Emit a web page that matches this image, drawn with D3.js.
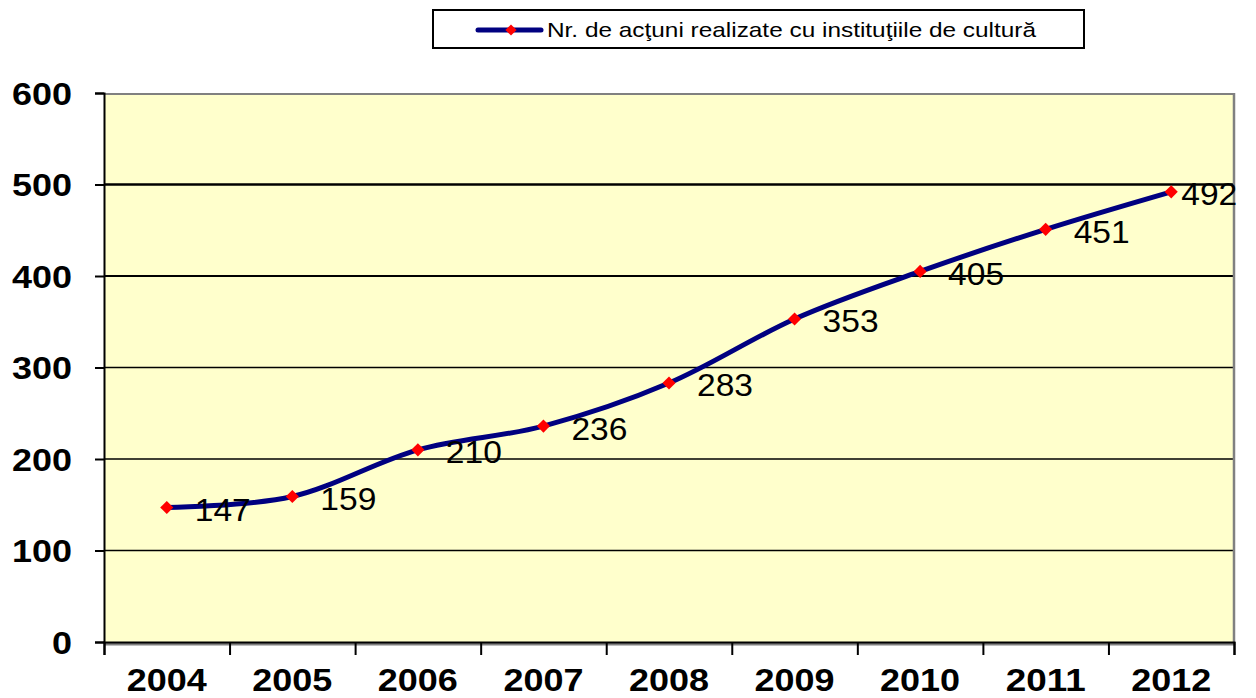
<!DOCTYPE html>
<html>
<head>
<meta charset="utf-8">
<script src="https://cdn.jsdelivr.net/npm/d3@7"></script>
<style>
  body { margin: 0; background: #fff; }
  svg { display: block; font-family: "Liberation Sans", Arial, sans-serif; }
</style>
</head>
<body>
<div id="chart"></div>
<script>
// data
const years = ["2004", "2005", "2006", "2007", "2008", "2009", "2010", "2011", "2012"];
const actions = [147, 159, 210, 236, 283, 353, 405, 451, 492];
const yTicks = [0, 100, 200, 300, 400, 500, 600];
const seriesName = "Nr. de acţuni realizate cu instituţiile de cultură";

const width = 1256, height = 698;
const plot = {left: 104, right: 1234, top: 93, bottom: 642};

let svg = d3.select("#chart")
    .append("svg")
    .attr("width", width)
    .attr("height", height);

let x = d3.scaleBand()
    .domain(years)
    .range([plot.left, plot.right])
    .padding(0);

// boundaries between categories, for tick marks
let xEdge = d3.scaleLinear()
    .domain([0, years.length])
    .range([plot.left, plot.right]);

let y = d3.scaleLinear()
    .domain([0, 600])
    .range([plot.bottom, plot.top]);

// plot area
svg.append("rect")
    .attr("x", plot.left)
    .attr("y", plot.top)
    .attr("width", plot.right - plot.left)
    .attr("height", plot.bottom - plot.top)
    .attr("fill", "#FFFFCC");

// grid lines
svg.append("g")
    .selectAll("line")
    .data(yTicks.filter(d => d > 0 && d < 600))
    .enter()
    .append("line")
    .attr("x1", plot.left)
    .attr("x2", plot.right)
    .attr("y1", d => y(d))
    .attr("y2", d => y(d))
    .attr("stroke", "#000")
    .attr("stroke-width", d => d === 500 ? 2.5 : (d === 400 ? 2 : 1.3));

// grey frame top / right, shadow under x axis
svg.append("line")
    .attr("x1", plot.left).attr("x2", plot.right)
    .attr("y1", plot.top + 1).attr("y2", plot.top + 1)
    .attr("stroke", "#808080").attr("stroke-width", 2);
svg.append("line")
    .attr("x1", plot.right).attr("x2", plot.right)
    .attr("y1", plot.top).attr("y2", plot.bottom + 3)
    .attr("stroke", "#808080").attr("stroke-width", 2.5);
svg.append("line")
    .attr("x1", plot.left).attr("x2", plot.right)
    .attr("y1", plot.bottom + 2).attr("y2", plot.bottom + 2)
    .attr("stroke", "#808080").attr("stroke-width", 3);

// y axis
let yAxis = svg.append("g")
    .attr("transform", `translate(${plot.left}, 0)`)
    .call(d3.axisLeft(y).tickValues(yTicks).tickSize(9).tickFormat(""));
yAxis.select(".domain").attr("stroke-width", 2);
yAxis.selectAll(".tick line").attr("stroke-width", 2);

svg.append("g")
    .selectAll("text")
    .data(yTicks)
    .enter()
    .append("text")
    .attr("x", 72)
    .attr("y", d => y(d))
    .attr("dy", "0.36em")
    .style("text-anchor", "end")
    .style("font-size", "32px")
    .style("font-weight", "bold")
    .attr("textLength", d => String(d).length * 20)
    .attr("lengthAdjust", "spacingAndGlyphs")
    .text(d => d);

// x axis
let xAxis = svg.append("g")
    .attr("transform", `translate(0, ${plot.bottom})`)
    .call(d3.axisBottom(xEdge).tickValues(d3.range(years.length + 1)).tickSize(13).tickFormat(""));
xAxis.select(".domain").attr("stroke-width", 2);
xAxis.selectAll(".tick line").attr("stroke-width", 2);

svg.append("g")
    .selectAll("text")
    .data(years)
    .enter()
    .append("text")
    .attr("x", d => x(d) + x.bandwidth() / 2)
    .attr("y", 691)
    .style("text-anchor", "middle")
    .style("font-size", "31px")
    .style("font-weight", "bold")
    .attr("textLength", 80)
    .attr("lengthAdjust", "spacingAndGlyphs")
    .text(d => d);

// series line
let cx = function(i) { return x(years[i]) + x.bandwidth() / 2; };

let line = d3.line()
    .x((d, i) => cx(i))
    .y(d => y(d))
    .curve(d3.curveCatmullRom.alpha(0));

svg.append("path")
    .datum(actions)
    .attr("d", line)
    .attr("fill", "none")
    .attr("stroke", "#000080")
    .attr("stroke-width", 5)
    .attr("stroke-linejoin", "round");

let marker = d3.symbol().type(d3.symbolDiamond2).size(110);

svg.append("g")
    .selectAll("path")
    .data(actions)
    .enter()
    .append("path")
    .attr("d", marker)
    .attr("transform", (d, i) => `translate(${cx(i)}, ${y(d)})`)
    .attr("fill", "#FF0000");

// value labels
svg.append("g")
    .selectAll("text")
    .data(actions)
    .enter()
    .append("text")
    .attr("x", (d, i) => cx(i) + (i === actions.length - 1 ? 10 : 28))
    .attr("y", d => y(d))
    .attr("dy", "0.42em")
    .style("font-size", "32px")
    .style("fill", "#000")
    .attr("textLength", 56)
    .attr("lengthAdjust", "spacingAndGlyphs")
    .text(d => d);

// legend
let legend = svg.append("g");
legend.append("rect")
    .attr("x", 433)
    .attr("y", 10)
    .attr("width", 651)
    .attr("height", 38)
    .attr("fill", "#fff")
    .attr("stroke", "#000")
    .attr("stroke-width", 2);
legend.append("line")
    .attr("x1", 478).attr("x2", 541)
    .attr("y1", 30).attr("y2", 30)
    .attr("stroke", "#000080")
    .attr("stroke-width", 5)
    .attr("stroke-linecap", "round");
legend.append("path")
    .attr("d", d3.symbol().type(d3.symbolDiamond2).size(80))
    .attr("transform", "translate(511, 30)")
    .attr("fill", "#FF0000");
legend.append("text")
    .attr("x", 547)
    .attr("y", 37)
    .style("font-size", "21px")
    .attr("textLength", 489)
    .attr("lengthAdjust", "spacingAndGlyphs")
    .text(seriesName);
</script>
</body>
</html>
